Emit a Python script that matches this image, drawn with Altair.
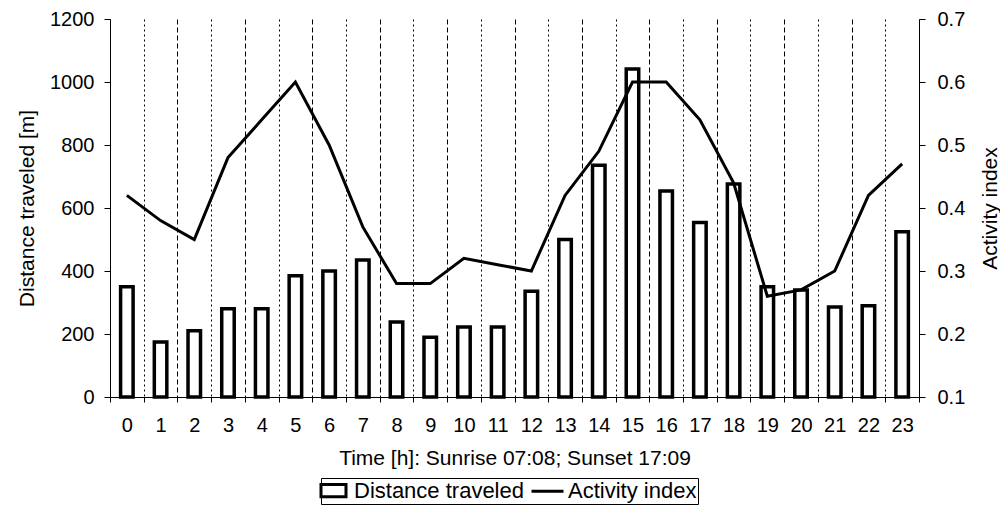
import altair as alt
import pandas as pd

hours = list(range(24))
distance = [350, 175, 210, 280, 280, 385, 400, 435, 238, 190, 222, 222,
            336, 500, 736, 1041, 654, 554, 676, 350, 340, 286, 290, 525]
activity = [0.42, 0.38, 0.35, 0.48, 0.54, 0.60, 0.50, 0.37, 0.28, 0.28, 0.32, 0.31,
            0.30, 0.42, 0.49, 0.60, 0.60, 0.54, 0.44, 0.26, 0.27, 0.30, 0.42, 0.47]
series_names = ["Distance traveled", "Activity index"]
left_ticks = [0, 200, 400, 600, 800, 1000, 1200]
right_ticks = [0.1, 0.2, 0.3, 0.4, 0.5, 0.6, 0.7]
x_title = "Time [h]: Sunrise 07:08; Sunset 17:09"

df = pd.DataFrame({"hour": hours, "distance": distance, "activity": activity})
legend_df = pd.DataFrame({"series": series_names})

FONT = "Liberation Sans"
W, H = 809, 378
boundaries = [h - 0.5 for h in hours] + [hours[-1] + 0.5]

x_enc = alt.X(
    "hour:Q",
    scale=alt.Scale(domain=[boundaries[0], boundaries[-1]], nice=False, zero=False, padding=0),
    axis=alt.Axis(
        values=boundaries,
        tickCount=60,
        labelExpr="datum.value < 23 ? format(datum.value + 0.5, 'd') : ''",
        labelOffset=W / 24 / 2,
        labelOverlap=False,
        labelBound=False,
        labelFlush=False,
        labelAlign="center",
        labelPadding=13,
        tickSize=5,
        tickColor="black",
        domainColor="black",
        grid=True,
        gridColor="black",
        gridWidth=1,
        gridDash={"condition": {"test": "round(datum.value + 0.5) % 2 == 1", "value": [2, 3]},
                  "value": [5, 3]},
        title=x_title,
        titlePadding=12,
    ),
)

bars = alt.Chart(df).mark_bar(size=12.5, fill="white", stroke="black", strokeWidth=3.5).encode(
    x=x_enc,
    y=alt.Y(
        "distance:Q",
        scale=alt.Scale(domain=[0, 1200], nice=False),
        axis=alt.Axis(
            values=left_ticks,
            format="d",
            title="Distance traveled [m]",
            titlePadding=12,
            tickSize=6,
            labelPadding=10,
            tickColor="black",
            domainColor="black",
            grid=False,
        ),
    ),
)

line = alt.Chart(df).mark_line(color="black", strokeWidth=3).encode(
    x=alt.X("hour:Q"),
    y=alt.Y(
        "activity:Q",
        scale=alt.Scale(domain=[0.1, 0.7], nice=False, zero=False),
        axis=alt.Axis(
            orient="right",
            values=right_ticks,
            format=".1f",
            title="Activity index",
            titleAngle=270,
            titleBaseline="top",
            titlePadding=15,
            tickSize=6,
            labelPadding=12,
            tickColor="black",
            domainColor="black",
            grid=False,
        ),
    ),
)

legend_layer = alt.Chart(legend_df).mark_point(filled=False, strokeWidth=3, color="black").encode(
    x=alt.value(0),
    y=alt.value(0),
    opacity=alt.value(0),
    shape=alt.Shape(
        "series:N",
        scale=alt.Scale(domain=series_names,
                        range=["M-1.25,-0.62H1.25V0.62H-1.25Z", "M-1.6,0H1.6"]),
        legend=alt.Legend(
            orient="none",
            legendX=211,
            legendY=459,
            direction="horizontal",
            title=None,
            strokeColor="black",
            padding=1,
            labelFontSize=22,
            labelFont=FONT,
            labelColor="black",
            labelLimit=400,
            labelOffset=9,
            columnPadding=1,
            symbolOpacity=1,
            symbolStrokeColor="black",
            symbolFillColor="white",
            symbolStrokeWidth=3,
            symbolSize=400,
        ),
    ),
)

chart = (
    alt.layer(bars, line, legend_layer)
    .resolve_scale(y="independent")
    .properties(
        width=W,
        height=H,
        autosize=alt.AutoSizeParams(type="none"),
        padding={"left": 102, "top": 11, "right": 81, "bottom": 110},
        background="white",
    )
    .configure_view(stroke=None)
    .configure_axis(
        labelFont=FONT,
        titleFont=FONT,
        labelFontSize=20,
        titleFontSize=21,
        titleFontWeight="normal",
        labelColor="black",
        titleColor="black",
    )
)

chart.save("out.html", embed_options={"renderer": "svg", "actions": False})
